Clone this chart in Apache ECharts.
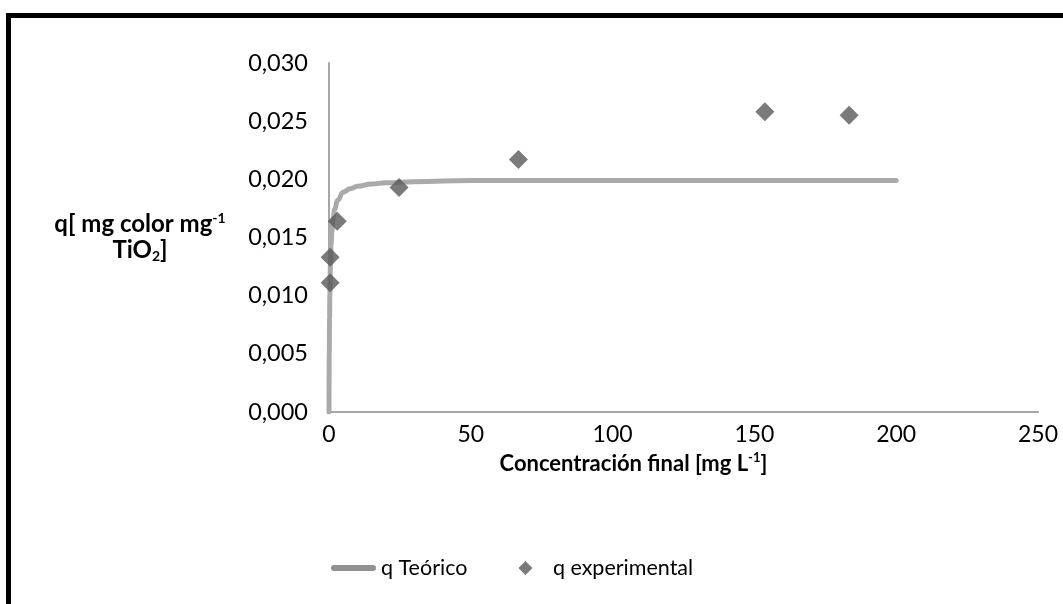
<!DOCTYPE html>
<html><head><meta charset="utf-8">
<script src="https://cdn.jsdelivr.net/npm/echarts@6/dist/echarts.min.js"></script>
<style>html,body{margin:0;padding:0;background:#fff}#c{width:1063px;height:604px}</style>
</head><body><div id="c"></div>
<script>
// ---- data ----
const xTickValues = [0, 50, 100, 150, 200, 250];
const yTickLabels = ['0,000', '0,005', '0,010', '0,015', '0,020', '0,025', '0,030'];
// q Teórico (curve)
const teoricoC = [0, 0.1, 0.2, 0.3, 0.5, 0.75, 1, 1.5, 2, 3, 5, 7.5, 10, 15, 20, 30, 50, 75, 100, 150, 200];
const teoricoQ = [0, 0.0051, 0.0081, 0.0101, 0.0126, 0.0144, 0.0155, 0.0167, 0.0174, 0.0182, 0.0189, 0.0192, 0.0194, 0.0196, 0.0197, 0.0198, 0.0199, 0.0199, 0.0199, 0.0199, 0.0199];
// q experimental (points)
const expC = [0.4, 0.4, 2.9, 24.7, 66.8, 153.7, 183.4];
const expQ = [0.0111, 0.0133, 0.0164, 0.0193, 0.0217, 0.0258, 0.0255];

const FONT = 'Lato';
const chart = echarts.init(document.getElementById('c'), null, {renderer: 'canvas'});
const lineData = teoricoC.map((c, i) => [c, teoricoQ[i]]);
const expData = expC.map((c, i) => [c, expQ[i]]);

chart.setOption({
  animation: false,
  backgroundColor: '#fff',
  graphic: [{
    type: 'rect', silent: true, z: 100,
    shape: {x: 8.5, y: 15.5, width: 1200, height: 800},
    style: {fill: 'none', stroke: '#000', lineWidth: 5}
  }],
  grid: {left: 329, right: 25, top: 63, bottom: 192, containLabel: false, outerBoundsMode: 'none'},
  xAxis: {
    type: 'value', min: 0, max: 250, interval: 50,
    axisLine: {show: true, lineStyle: {color: '#a6a6a6', width: 2}},
    axisTick: {show: false}, splitLine: {show: false},
    axisLabel: {fontSize: 23, fontFamily: FONT, color: '#000', margin: 11,
      formatter: v => xTickValues.indexOf(v) >= 0 ? String(v) : ''},
    name: '{b|Concentración final [mg L}{sup|-1}{b|]}',
    nameLocation: 'middle', nameGap: 50,
    nameTextStyle: {
      align: 'center', verticalAlign: 'middle',
      padding: [0, 100, 0, 0],
      rich: {
        b: {fontSize: 22, fontWeight: 'bold', fontFamily: FONT, color: '#000', lineHeight: 26},
        sup: {fontSize: 13, fontWeight: 'bold', fontFamily: FONT, color: '#000', lineHeight: 15, verticalAlign: 'top'}
      }
    }
  },
  yAxis: {
    type: 'value', min: 0, max: 0.03, interval: 0.005,
    axisLine: {show: true, lineStyle: {color: '#a6a6a6', width: 2}},
    axisTick: {show: false}, splitLine: {show: false},
    axisLabel: {fontSize: 23.5, fontFamily: FONT, color: '#000', margin: 21,
      formatter: v => yTickLabels[Math.round(v / 0.005)]},
    name: '{b|q[ mg color mg}{sup|-1}\n{b|TiO}{sub|2}{b|]}',
    nameLocation: 'middle', nameRotate: 0, nameGap: 189,
    nameTextStyle: {
      align: 'center', verticalAlign: 'middle',
      rich: {
        b: {fontSize: 24, fontWeight: 'bold', fontFamily: FONT, color: '#000', lineHeight: 26, align: 'center'},
        sup: {fontSize: 14, fontWeight: 'bold', fontFamily: FONT, color: '#000', lineHeight: 14, verticalAlign: 'top', align: 'center'},
        sub: {fontSize: 14, fontWeight: 'bold', fontFamily: FONT, color: '#000', lineHeight: 12, verticalAlign: 'bottom', align: 'center'}
      }
    }
  },
  legend: {
    left: 326, top: 552, orient: 'horizontal',
    itemWidth: 45, itemHeight: 14, itemGap: 51,
    textStyle: {fontSize: 21.5, fontFamily: FONT, color: '#000'},
    data: [
      {name: 'q Teórico', icon: 'path://M3,0H42A3,3,0,0,1,42,6H3A3,3,0,0,1,3,0Z', itemStyle: {color: '#909090', borderWidth: 0}},
      {name: 'q experimental', icon: 'path://M0,-1L1,0L0,1L-1,0Z', itemStyle: {color: '#595959', borderWidth: 0}}
    ]
  },
  series: [
    {
      name: 'q Teórico', type: 'line', data: lineData,
      showSymbol: false, symbol: 'none', smooth: true, smoothMonotone: 'x',
      lineStyle: {color: '#aaaaaa', width: 5, cap: 'round', join: 'round'},
      itemStyle: {color: '#aaaaaa'}, z: 2
    },
    {
      name: 'q experimental', type: 'scatter', data: expData,
      symbol: 'diamond', symbolSize: 19,
      itemStyle: {color: '#595959'}, z: 3
    }
  ]
});
</script>
</body></html>
